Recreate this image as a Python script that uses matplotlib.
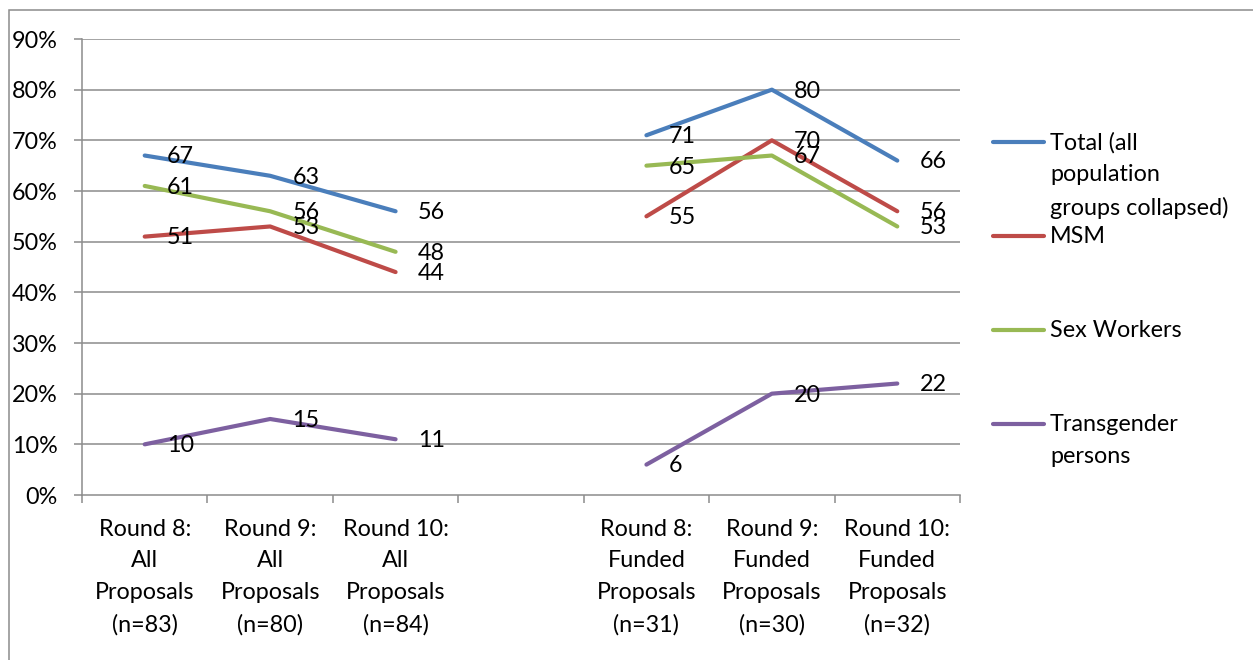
import numpy as np
import matplotlib
matplotlib.use("Agg")
import matplotlib.pyplot as plt
from matplotlib.patches import Rectangle
from matplotlib.lines import Line2D

categories = ["Round 8:\nAll\nProposals\n(n=83)", "Round 9:\nAll\nProposals\n(n=80)",
              "Round 10:\nAll\nProposals\n(n=84)", "",
              "Round 8:\nFunded\nProposals\n(n=31)", "Round 9:\nFunded\nProposals\n(n=30)",
              "Round 10:\nFunded\nProposals\n(n=32)"]
total = [67, 63, 56, np.nan, 71, 80, 66]
msm = [51, 53, 44, np.nan, 55, 70, 56]
sex_workers = [61, 56, 48, np.nan, 65, 67, 53]
transgender = [10, 15, 11, np.nan, 6, 20, 22]
series_names = ["Total (all\npopulation\ngroups collapsed)", "MSM", "Sex Workers",
                "Transgender\npersons"]
yticks = [0, 10, 20, 30, 40, 50, 60, 70, 80, 90]

colors = ["#4A7EBB", "#BE4B48", "#98B954", "#7D60A0"]
FONT = "Lato"
FS = 16.8
LS = 1.63

W, H = 1253, 660
fig = plt.figure(figsize=(W / 100, H / 100), dpi=100)
ax = fig.add_axes([82 / W, 1 - 495 / H, (960 - 82) / W, (495 - 39) / H])

x = np.arange(len(categories))
grid_c = "#8C8C8C"
for yv in yticks[1:]:
    ax.axhline(yv, color=grid_c, lw=1.1, zorder=1)

data = [total, msm, sex_workers, transgender]
for vals, col in zip(data, colors):
    v = np.array(vals, dtype=float)
    ax.plot(x, v, color=col, lw=3.0, solid_capstyle="round", solid_joinstyle="round", zorder=3)
    for xi, yi in zip(x, v):
        if not np.isnan(yi):
            ax.annotate(f"{int(yi)}", (xi, yi), xytext=(16, -1), textcoords="offset points",
                        ha="left", va="center", fontsize=FS, family=FONT, color="black", zorder=4)

ax.set_xlim(-0.5, len(categories) - 0.5)
ax.set_ylim(0, 90)
ax.set_yticks(yticks)
ax.set_yticklabels([f"{v}%" for v in yticks], family=FONT, fontsize=FS)
ax.set_xticks(x)
ax.set_xticklabels(categories, family=FONT, fontsize=FS, linespacing=LS)
ax.set_xticks(np.arange(-0.5, len(categories)), minor=True)
ax.tick_params(axis="x", which="major", length=0, pad=17)
ax.tick_params(axis="x", which="minor", length=5.5, color=grid_c, width=1.1, direction="out")
ax.tick_params(axis="y", length=5.5, color=grid_c, width=1.1, pad=12)
for s in ["top", "right"]:
    ax.spines[s].set_visible(False)
for s in ["left", "bottom"]:
    ax.spines[s].set_color(grid_c)
    ax.spines[s].set_linewidth(1.1)

# legend (manual)
leg_y = [142, 236, 330, 424]
for name, col, ly in zip(series_names, colors, leg_y):
    yf = 1 - ly / H
    fig.add_artist(Line2D([993 / W, 1044 / W], [yf, yf], color=col, lw=3.0,
                          solid_capstyle="round", transform=fig.transFigure))
    fig.text(1050 / W, 1 - (ly - 10) / H, name, ha="left", va="top", fontsize=FS,
             family=FONT, linespacing=LS)

# outer frame
fig.add_artist(Rectangle((9 / W, -0.05), 2, 1 - 10 / H + 0.05, fill=False,
                         edgecolor="#8C8C8C", lw=1.1, transform=fig.transFigure))

fig.savefig("out.png", dpi=100)
